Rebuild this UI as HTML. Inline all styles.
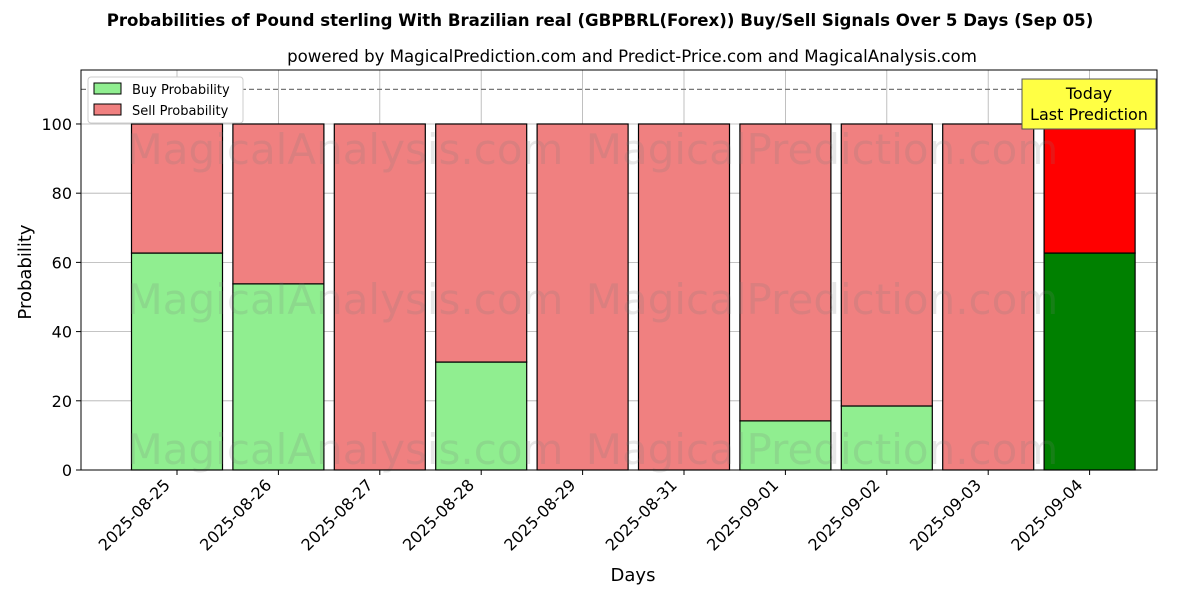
<!DOCTYPE html>
<html><head><meta charset="utf-8"><style>
body{margin:0;background:#fff;font-family:"DejaVu Sans","Liberation Sans",sans-serif;}
svg text{font-family:"DejaVu Sans","Liberation Sans",sans-serif;}
</style></head><body>
<svg id="chart" width="1200" height="600" xmlns="http://www.w3.org/2000/svg">
<text x="600" y="26" text-anchor="middle" font-size="16.6" font-weight="bold">Probabilities of Pound sterling With Brazilian real (GBPBRL(Forex)) Buy/Sell Signals Over 5 Days (Sep 05)</text>
<text x="632" y="62" text-anchor="middle" font-size="16.6">powered by MagicalPrediction.com and Predict-Price.com and MagicalAnalysis.com</text>
<g id="plot"></g>
<text x="633" y="581" text-anchor="middle" font-size="18">Days</text>
<text transform="translate(31,272) rotate(-90)" text-anchor="middle" font-size="18">Probability</text>
</svg>
<script>
const categories=["2025-08-25","2025-08-26","2025-08-27","2025-08-28","2025-08-29","2025-08-31","2025-09-01","2025-09-02","2025-09-03","2025-09-04"];
const buyValues=[62.7,53.8,0,31.2,0,0,14.2,18.5,0,62.7];
const sellValues=[37.3,46.2,100,68.8,100,100,85.8,81.5,100,37.3];
const yTicks=[0,20,40,60,80,100];
const thresholdValue=110;
const NS="http://www.w3.org/2000/svg";
const L=81,R=1157,T=70,B=470,YMAX=115.6;
const y=v=>B-(v/YMAX)*(B-T);
const step=101.4,x0=177;
const x=i=>x0+i*step;
const bw=91;
const g=document.getElementById('plot');
function mk(t,a){const e=document.createElementNS(NS,t);for(const k in a)e.setAttribute(k,a[k]);g.appendChild(e);return e;}
yTicks.forEach(v=>{
 const l=mk('line',{x1:L,x2:R,y1:y(v),y2:y(v),stroke:'#b0b0b0','stroke-width':0.8});
 
 
 mk('line',{x1:L-5,x2:L,y1:y(v),y2:y(v),stroke:'#000'});
 const t=mk('text',{x:L-9,y:y(v)+6,'text-anchor':'end','font-size':16});t.textContent=v;
 
 
});
categories.forEach((c,i)=>{
 const l=mk('line',{x1:x(i),x2:x(i),y1:T,y2:B,stroke:'#b0b0b0','stroke-width':0.8});
 
 
});
categories.forEach((c,i)=>{
 const last=i===categories.length-1;
 const bx=x(i)-bw/2;
 const b=mk('rect',{x:bx,y:y(buyValues[i]),width:bw,height:y(0)-y(buyValues[i]),fill:last?'#008000':'#90ee90',stroke:'#000','stroke-width':1.2});
 
 
 const s=mk('rect',{x:bx,y:y(buyValues[i]+sellValues[i]),width:bw,height:y(buyValues[i])-y(buyValues[i]+sellValues[i]),fill:last?'#ff0000':'#f08080',stroke:'#000','stroke-width':1.2});
 
 
 mk('line',{x1:x(i),x2:x(i),y1:B,y2:B+5,stroke:'#000'});
 const t=mk('text',{transform:`translate(${x(i)-6},${B+16}) rotate(-45)`,'text-anchor':'end','font-size':16});t.textContent=c;
 
 
});
[[345,150,'MagicalAnalysis.com'],[822,150,'MagicalPrediction.com'],[345,300,'MagicalAnalysis.com'],[822,300,'MagicalPrediction.com'],[345,450,'MagicalAnalysis.com'],[822,450,'MagicalPrediction.com']].forEach(w=>{
 const t=mk('text',{x:w[0],y:w[1]+14,'text-anchor':'middle','font-size':42,fill:'rgba(120,120,120,0.18)'});t.textContent=w[2];
 
 
});
const th=mk('line',{x1:L,x2:R,y1:y(thresholdValue),y2:y(thresholdValue),stroke:'#777','stroke-width':1.3,'stroke-dasharray':'5,3'});


const f=mk('rect',{x:L,y:T,width:R-L,height:B-T,fill:'none',stroke:'#000','stroke-width':1});


const ab=mk('rect',{x:1022,y:79,width:134,height:50,fill:'#ffff44',stroke:'#555','stroke-width':1});


[['Today',99],['Last Prediction',120]].forEach(a=>{const t=mk('text',{x:1089,y:a[1],'text-anchor':'middle','font-size':16});t.textContent=a[0];
 
 });
const lg=mk('rect',{x:88,y:77,width:155,height:46,fill:'#fff',stroke:'#ccc',rx:3});


[['Buy Probability','#90ee90',83],['Sell Probability','#f08080',104]].forEach(e=>{
 const r=mk('rect',{x:94,y:e[2],width:27,height:11,fill:e[1],stroke:'#000'});
 
 
 const t=mk('text',{x:132,y:e[2]+11,'font-size':13});t.textContent=e[0];
 
 
});
</script>
</body></html>
